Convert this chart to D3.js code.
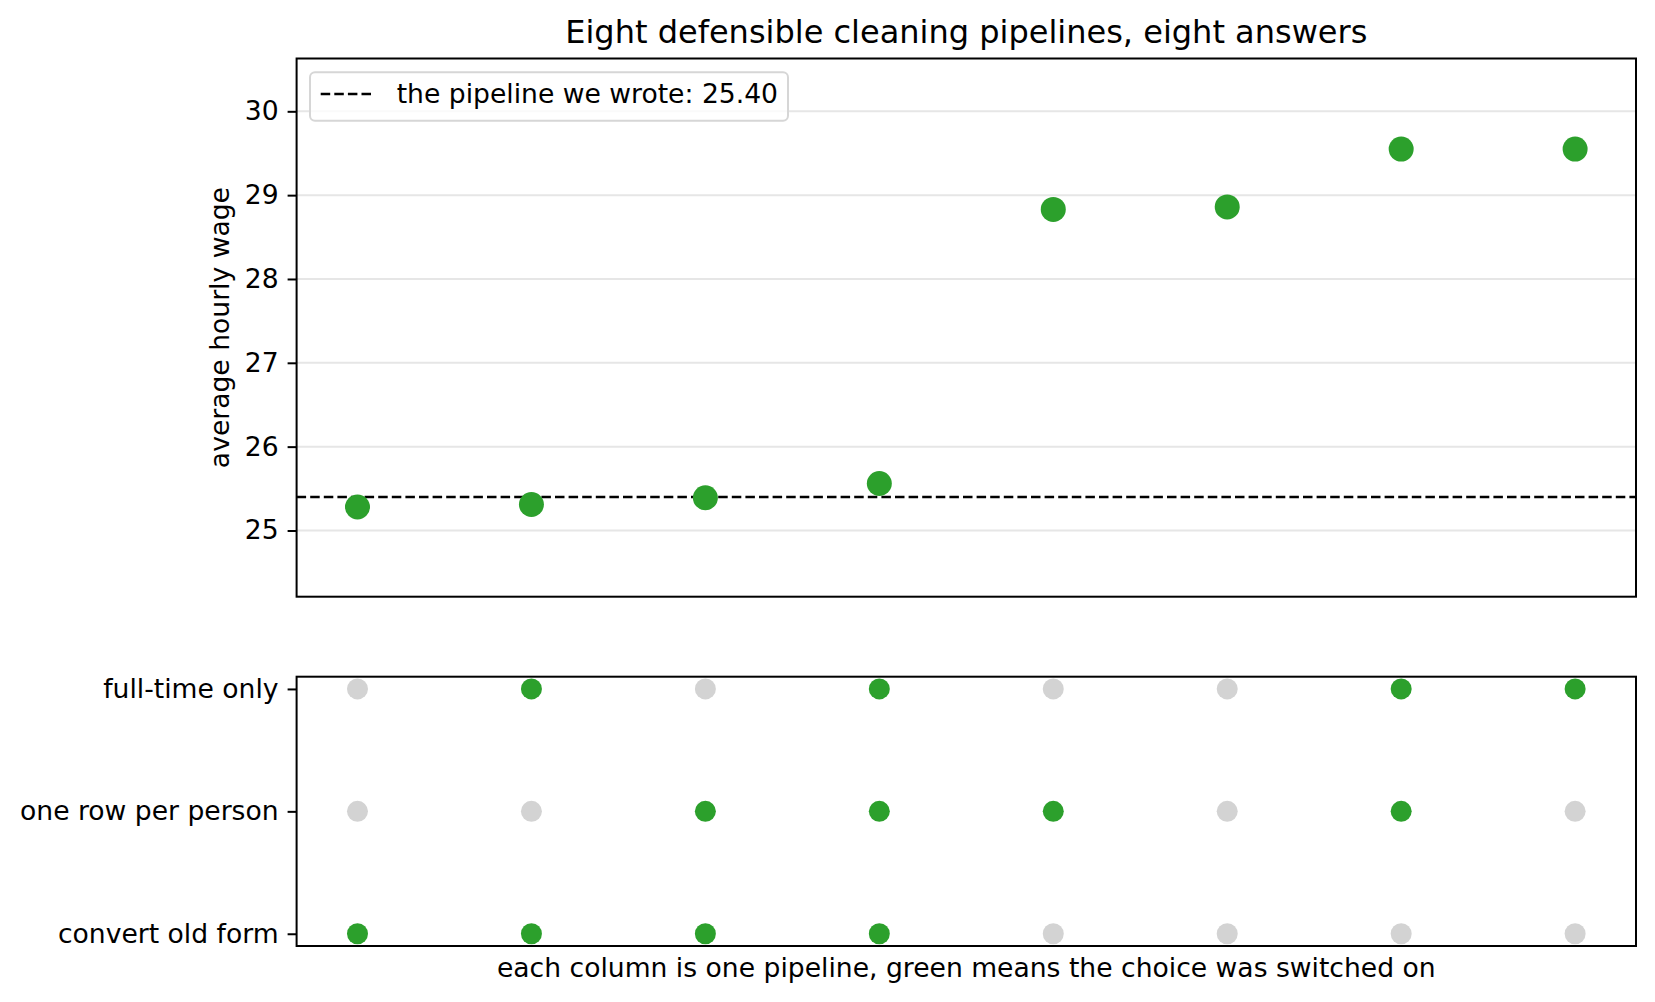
<!DOCTYPE html>
<html>
<head>
<meta charset="utf-8">
<script src="https://cdn.jsdelivr.net/npm/d3@7"></script>
<style>
  body { margin: 0; background: #fff; }
  text { font-family: "DejaVu Sans", sans-serif; fill: #000; }
</style>
</head>
<body>
<div id="Container"></div>
<script>
// one value per pipeline, left to right
var pipelines = [0, 1, 2, 3, 4, 5, 6, 7];
var wages = [25.28, 25.31, 25.39, 25.56, 28.83, 28.86, 29.55, 29.55];
var ourPipeline = 25.40;
var wageTicks = [25, 26, 27, 28, 29, 30];

// switches, bottom row first
var choices = ["convert old form", "one row per person", "full-time only"];
var convertOld = [1, 1, 1, 1, 0, 0, 0, 0];
var oneRow     = [0, 0, 1, 1, 1, 0, 1, 0];
var fullTime   = [0, 1, 0, 1, 0, 0, 1, 1];

var green = "#2ca02c",
    grey = "#d3d3d3";
var fs = 26.6;

var W = 1655, H = 1002;
var left = 296.6, right = 1636;
var top1 = 58.5, bot1 = 596.7;
var top2 = 676.7, bot2 = 946;
var w = right - left;

var canvas = d3.select("#Container").append("svg")
    .attr("width", W)
    .attr("height", H);

var x = d3.scaleLinear()
    .domain([-0.35, 7.35])
    .range([0, w]);

// ---------- upper panel ----------
var upper = canvas.append("g")
    .attr("transform", "translate(" + left + "," + top1 + ")");
var h1 = bot1 - top1;

var y = d3.scaleLinear()
    .domain([24.21, 30.63])
    .range([h1, 0]);

upper.selectAll("grid").data(wageTicks)
    .enter()
    .append("line")
        .attr("x1", 0)
        .attr("x2", w)
        .attr("y1", function (d) { return y(d); })
        .attr("y2", function (d) { return y(d); })
        .attr("stroke", "#e6e6e6")
        .attr("stroke-width", 2);

upper.append("line")
    .attr("x1", 0)
    .attr("x2", w)
    .attr("y1", y(ourPipeline))
    .attr("y2", y(ourPipeline))
    .attr("stroke", "#000")
    .attr("stroke-width", 2.6)
    .attr("stroke-dasharray", "9.5,4.1");

upper.selectAll("dots").data(pipelines)
    .enter()
    .append("circle")
        .attr("cx", function (d) { return x(d); })
        .attr("cy", function (d) { return y(wages[d]); })
        .attr("r", 12.5)
        .attr("fill", green);

var yax = upper.append("g")
    .call(d3.axisLeft(y).tickValues(wageTicks).tickSize(9).tickPadding(9).tickFormat(d3.format("d")));
yax.select(".domain").remove();
yax.selectAll("line").attr("stroke-width", 2);
yax.selectAll("text").attr("font-size", fs).attr("font-family", "DejaVu Sans");

upper.append("rect")
    .attr("width", w)
    .attr("height", h1)
    .attr("fill", "none")
    .attr("stroke", "#000")
    .attr("stroke-width", 2);

// legend
var leg = upper.append("g")
    .attr("transform", "translate(" + (310 - left) + "," + (72.3 - top1) + ")");
leg.append("rect")
    .attr("width", 478)
    .attr("height", 48.4)
    .attr("rx", 5)
    .attr("fill", "#fff")
    .attr("fill-opacity", 0.8)
    .attr("stroke", "#d6d6d6")
    .attr("stroke-width", 2);
leg.append("line")
    .attr("x1", 10.7)
    .attr("x2", 64)
    .attr("y1", 21.7)
    .attr("y2", 21.7)
    .attr("stroke", "#000")
    .attr("stroke-width", 2.6)
    .attr("stroke-dasharray", "9.5,4.1");
leg.append("text")
    .attr("x", 86.7)
    .attr("y", 30.6)
    .attr("font-size", fs)
    .text("the pipeline we wrote: " + ourPipeline.toFixed(2));

canvas.append("text")
    .attr("x", left + w / 2)
    .attr("y", 43)
    .attr("text-anchor", "middle")
    .attr("font-size", 32)
    .text("Eight defensible cleaning pipelines, eight answers");

canvas.append("text")
    .attr("transform", "translate(229," + (top1 + h1 / 2) + ")rotate(-90)")
    .attr("text-anchor", "middle")
    .attr("font-size", fs)
    .text("average hourly wage");

// ---------- lower panel ----------
var lower = canvas.append("g")
    .attr("transform", "translate(" + left + "," + top2 + ")");
var h2 = bot2 - top2;

var yb = d3.scaleLinear()
    .domain([-0.1, 2.1])
    .range([h2, 0]);

var rows = [convertOld, oneRow, fullTime];
rows.forEach(function (row, i) {
    lower.selectAll("sw" + i).data(pipelines)
        .enter()
        .append("circle")
            .attr("cx", function (d) { return x(d); })
            .attr("cy", yb(i))
            .attr("r", 10.5)
            .attr("fill", function (d) { return row[d] ? green : grey; });
});

var ybax = lower.append("g")
    .call(d3.axisLeft(yb).tickValues([0, 1, 2]).tickSize(9).tickPadding(9)
        .tickFormat(function (d) { return choices[d]; }));
ybax.select(".domain").remove();
ybax.selectAll("line").attr("stroke-width", 2);
ybax.selectAll("text").attr("font-size", fs).attr("font-family", "DejaVu Sans");

lower.append("rect")
    .attr("width", w)
    .attr("height", h2)
    .attr("fill", "none")
    .attr("stroke", "#000")
    .attr("stroke-width", 2);

canvas.append("text")
    .attr("x", left + w / 2)
    .attr("y", 977)
    .attr("text-anchor", "middle")
    .attr("font-size", fs)
    .text("each column is one pipeline, green means the choice was switched on");
</script>
</body>
</html>
